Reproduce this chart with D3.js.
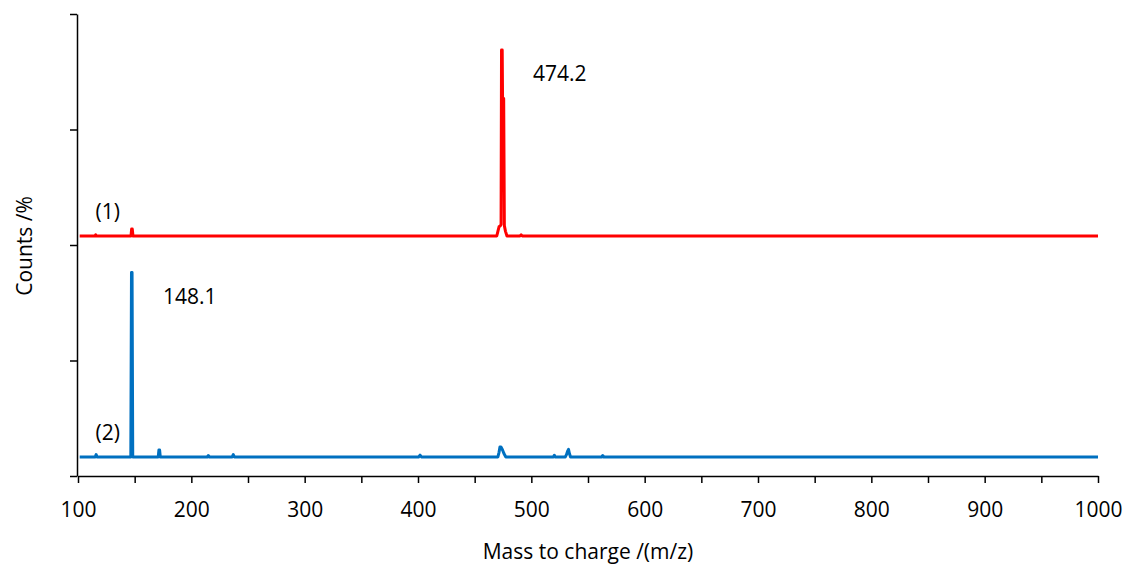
<!DOCTYPE html>
<html><head><meta charset="utf-8">
<script src="https://cdn.jsdelivr.net/npm/d3@7"></script>
<style>
html,body{margin:0;padding:0;background:#fff;}
text{font-family:"Open Sans","Noto Sans",sans-serif;fill:#000;}
</style></head>
<body>
<svg id="c" width="1129" height="566"></svg>
<script>
// ---- data ----
const xTicks = [100,200,300,400,500,600,700,800,900,1000];
const xMinorTicks = [150,250,350,450,550,650,750,850,950];
const yTicks = [0,1,2,3,4];
const seriesNames = ["(1)","(2)"];
const seriesColors = ["#ff0000","#0070c0"];
const baselines = [2.078, 0.165];
// spectrum (1): m/z and intensity above baseline
const mz1  = [101.5,115,115.6,116.2,146.8,147.3,147.9,148.5,300,469.5,470.5,471.5,472.8,473.3,473.7,474.3,474.6,475.6,476.2,477.2,478.5,490,491,492,1000];
const int1 = [0,0,0.01,0,0,0.06,0.06,0,0,0,0.04,0.08,0.09,0.1,1.61,1.61,1.19,1.19,0.09,0.04,0,0,0.01,0,0];
// spectrum (2)
const mz2  = [101.5,115.2,116,116.8,146.6,147.2,147.7,148.3,170.8,171.4,172,172.6,214,215,216,236,237,238,400.5,401.8,403,470.5,471.5,472.3,473.2,474.6,475.8,477.5,519.5,520.3,521,530,531,532,532.8,533.6,534.6,562,563,564,1000];
const int2 = [0,0,0.02,0,0,1.596,1.596,0,0,0.06,0.06,0,0,0.012,0,0,0.02,0,0,0.015,0,0,0.04,0.087,0.087,0.06,0.03,0,0,0.015,0,0,0.02,0.05,0.065,0.03,0,0,0.012,0,0];
const peakLabels = ["474.2","148.1"];
const xLabel = "Mass to charge /(m/z)";
const yLabel = "Counts /%";

// ---- chart ----
const svg = d3.select("#c");
const x = d3.scaleLinear().domain([100,1000]).range([78,1098]);
const y = d3.scaleLinear().domain([0,4]).range([476,14]);

// x axis
const gx = svg.append("g").attr("transform","translate(0,476)");
gx.call(d3.axisBottom(x).tickValues(xTicks).tickSize(7).tickSizeOuter(0).tickPadding(19).tickFormat(d3.format("d")));
gx.append("g").call(d3.axisBottom(x).tickValues(xMinorTicks).tickSize(7).tickFormat("")).select(".domain").remove();
gx.selectAll("text").style("font-size","21px").attr("fill","#000").style("font-family","'Open Sans','Noto Sans',sans-serif");
gx.selectAll("line,path").attr("stroke","#000").attr("stroke-width",1.5);

// y axis
const gy = svg.append("g").attr("transform","translate(77,0)");
gy.call(d3.axisLeft(y).tickValues(yTicks).tickSize(7).tickSizeOuter(0).tickFormat(""));
gy.selectAll("line,path").attr("stroke","#000").attr("stroke-width",1.5);

// spectra
const series = [
  {mz: mz1, it: int1},
  {mz: mz2, it: int2}
];
series.forEach((s,i)=>{
  const pts = s.mz.map((m,k)=>[m, baselines[i] + s.it[k]]);
  const line = d3.line().x(d=>x(d[0])).y(d=>y(d[1]));
  svg.append("path").datum(pts).attr("d",line)
    .attr("fill","none").attr("stroke",seriesColors[i])
    .attr("stroke-width",3).attr("stroke-linejoin","round").attr("stroke-linecap","butt");
});

// series labels
seriesNames.forEach((n,i)=>{
  svg.append("text").attr("x", x(115.5)).attr("y", y(baselines[i]) - 17)
    .attr("text-anchor","start").style("font-size","21px").text(n);
});
// peak labels
const peakPos = [[501.5, baselines[0]+1.342],[175, baselines[1]+1.324]];
peakLabels.forEach((t,i)=>{
  svg.append("text").attr("x", x(peakPos[i][0])).attr("y", y(peakPos[i][1]))
    .attr("text-anchor","start").style("font-size","21px").text(t);
});

// axis titles
svg.append("text").attr("x", (x(100)+x(1000))/2).attr("y", 559)
  .attr("text-anchor","middle").style("font-size","21px").text(xLabel);
svg.append("text").attr("transform","translate(32,246) rotate(-90)")
  .attr("text-anchor","middle").style("font-size","21px").text(yLabel);
</script>
</body></html>
